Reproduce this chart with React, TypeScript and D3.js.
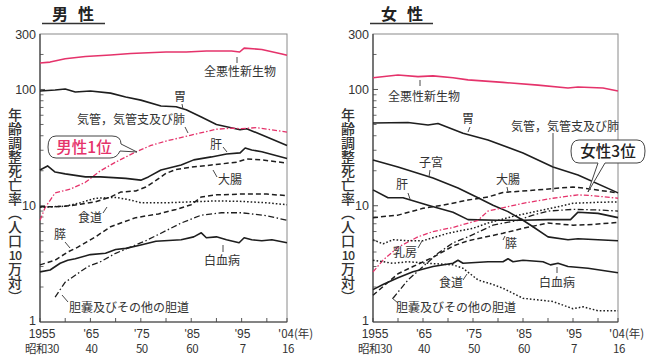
import React from 'react';
import * as d3 from 'd3';

type Pt = [number, number];

// ---------- tick labels ----------
const yearTicks = [1955, 1960, 1965, 1970, 1975, 1980, 1985, 1990, 1995, 2000, 2004];
const yearLabelYears = [1955, 1965, 1975, 1985, 1995, 2004];
const yearLabels = ['1955', "'65", "'75", "'85", "'95", "'04(年)"];
const eraLabels = ['昭和30', '40', '50', '60', '7', '16'];
const yLabelValues = [300, 100, 10, 1];
const yLabelTexts = ['300', '100', '10', '1'];
const yMinorTicks = [2, 3, 4, 5, 6, 7, 8, 9, 20, 30, 40, 50, 60, 70, 80, 90, 200];
const yAxisTitleA = '年齢調整死亡率（人口';
const yAxisTitleB = '10';
const yAxisTitleC = '万対）';

// ---------- male series ----------
const mAll: Pt[] = [[1955,169],[1957,172],[1960,184],[1964,192],[1969,198],[1973,204],[1980,210],[1984,210],[1988,214],[1993,214],[1994.6,210],[1995.5,227],[1999,221],[2003,202],[2004,197]];
const mStomach: Pt[] = [[1955,97],[1958,99],[1960,101],[1962,95],[1965,97],[1969,93],[1972,86],[1975,81],[1979,72],[1982,71],[1984,67],[1987,58],[1990,50],[1994.7,45],[1996,46],[2000,39],[2004,33]];
const mLung: Pt[] = [[1955,7.5],[1956,9.6],[1958,12.9],[1961,13.9],[1964,15.9],[1967,20],[1970,23.7],[1974,29],[1977,33],[1980,36],[1985,40.5],[1990,45.5],[1993,46.5],[1995,46],[1998,47],[2001,45],[2004,43]];
const mLiver: Pt[] = [[1955,20.3],[1956.5,22],[1958,19.5],[1960,18.8],[1964,17.7],[1967,17.7],[1972,17.2],[1975,16.6],[1976.5,17.7],[1979,20.3],[1983,22.4],[1985.5,24.8],[1989,26.3],[1992,27.9],[1994.7,28.5],[1995.7,31.4],[1997,30.2],[1999,29.1],[2004,25.5]];
const mColon: Pt[] = [[1955,9.8],[1958,9.8],[1961,10],[1963,10.3],[1966,10.8],[1969,11.9],[1971,13.1],[1974,13.4],[1976,14.5],[1978,16.5],[1980,19],[1982,20.5],[1985,21.5],[1989,22.4],[1994,23.7],[1996,25.2],[1999,24.8],[2004,23.3]];
const mEsoph: Pt[] = [[1955,9.7],[1960,9.9],[1963,10.6],[1966,11.6],[1970,11.8],[1973,11.2],[1975,10.6],[1980,10.6],[1985,10.8],[1990,11],[1995,10.9],[2000,10.6],[2004,10.2]];
const mPancreas: Pt[] = [[1955,3.1],[1958,3.4],[1960.5,4.0],[1962.5,4.4],[1966,5.4],[1969,6.6],[1974,7.9],[1978.5,8.5],[1982,9.3],[1985,10.2],[1987,11.9],[1990,12.4],[1995,12.6],[2000,12.6],[2004,12.2]];
const mGall: Pt[] = [[1958,1.64],[1960,2.2],[1964.5,3.0],[1967,3.3],[1970,3.9],[1974,4.6],[1976,5.0],[1979,5.8],[1983,7.1],[1987,8.3],[1991,8.7],[1995,8.7],[2000,8.2],[2004,7.5]];
const mLeuk: Pt[] = [[1955,2.7],[1957,2.8],[1959,3.2],[1960.5,3.4],[1962,3.5],[1965,3.8],[1968,3.9],[1970,4.2],[1972,4.3],[1975,4.6],[1978,4.95],[1983,5.1],[1985.5,5.4],[1987,5.85],[1988,5.3],[1990,5.4],[1992,5.1],[1994.5,4.8],[1995.5,5.3],[1997,5.1],[1999,5.0],[2001,5.1],[2004,4.8]];

// ---------- female series ----------
const fAll: Pt[] = [[1955,126],[1960,133],[1964,129],[1967,131],[1971,126],[1974,121],[1981,115],[1988,109],[1994,103],[1996,105],[2001,103],[2004,97]];
const fStomach: Pt[] = [[1955,51.5],[1962,52],[1966,49.5],[1968,51],[1973,42],[1978,36.8],[1985,28.4],[1991,21.5],[1996,18.4],[2004,12.9]];
const fUterus: Pt[] = [[1955,24.7],[1960,21.5],[1967,17.3],[1972,14.2],[1976,11.7],[1979,10.1],[1982,8.9],[1985,7.5],[1987,6.6],[1990,5.4],[1994,5.1],[1996,5.2],[2004,5.0]];
const fLiver: Pt[] = [[1955,13.7],[1958,11.7],[1961,11.7],[1966,10.1],[1971,8.8],[1974,7.6],[1980,7.5],[1985,7.5],[1990,7.6],[1994.5,7.6],[1996,8.8],[2000,8.6],[2004,7.9]];
const fColon: Pt[] = [[1955,7.9],[1960,8.3],[1965,9.5],[1969,10.1],[1974,11.2],[1978,11.9],[1981,13],[1988,13.7],[1995,14.5],[1997,14.2],[2004,12.9]];
const fLung: Pt[] = [[1955,2.7],[1957,3.4],[1960,4.4],[1964,5.4],[1967,6.0],[1971,6.5],[1976,7.5],[1978,9.0],[1980,9.4],[1985,10.5],[1991,11.6],[1996,12.4],[1999,12.2],[2004,11.6]];
const fBreast: Pt[] = [[1955,5.1],[1957,4.7],[1959,5.1],[1962,5.0],[1965,5.0],[1970,5.8],[1975,6.4],[1978,7.1],[1983,8.1],[1988,9.0],[1992,9.8],[1995,10.5],[2000,10.7],[2004,10.8]];
const fGall: Pt[] = [[1959,1.6],[1962,2.3],[1965,3.0],[1968,3.9],[1971,4.8],[1974,5.4],[1979,6.8],[1984,7.5],[1987,8.3],[1990,9.0],[1995,9.3],[2000,9.2],[2004,9.0]];
const fPancreas: Pt[] = [[1955,1.7],[1960,2.6],[1963,3.0],[1967,3.6],[1971,4.5],[1974,5.0],[1981,5.8],[1985,6.4],[1990,7.1],[1995,6.8],[1999,6.9],[2004,7.2]];
const fEsoph: Pt[] = [[1955,3.4],[1959,3.2],[1962,3.3],[1966,3.2],[1971,3.1],[1973,2.9],[1976,2.3],[1979,2.1],[1981,1.95],[1985,1.6],[1991,1.5],[1995,1.3],[1997,1.35],[2000,1.25],[2004,1.25]];
const fLeuk: Pt[] = [[1955,1.9],[1957,2.1],[1960,2.4],[1963,2.7],[1967,3.0],[1971,3.2],[1972,3.4],[1973,3.2],[1978,3.3],[1981,3.3],[1982,3.5],[1983,3.3],[1985,3.4],[1989,3.3],[1990.5,3.1],[1992,3.2],[1994,3.0],[1998,2.9],[2004,2.65]];

// ---------- styles ----------
const BLACK = '#1e1e1e';
const PINK = '#e5336b';
const FONT = '"Noto Sans CJK JP", "Noto Sans", sans-serif';
const NUMFONT = '"Liberation Sans", Arial, sans-serif';

type Style = { stroke: string; dash?: string; w: number };
const SOLID: Style = { stroke: BLACK, w: 1.6 };
const DASHED: Style = { stroke: BLACK, dash: '5,3', w: 1.5 };
const DOTTED: Style = { stroke: BLACK, dash: '1.6,2', w: 1.5 };
const DASHDOT: Style = { stroke: BLACK, dash: '6,2.5,1.5,2.5', w: 1.3 };
const PINKSOLID: Style = { stroke: PINK, w: 1.6 };
const PINKDD: Style = { stroke: PINK, dash: '5,2,1.5,2', w: 1.3 };

type Series = { data: Pt[]; style: Style };
type Label = { text: string; x: number; y: number; leader?: number[] };

const maleSeries: Series[] = [
  { data: mAll, style: PINKSOLID },
  { data: mStomach, style: SOLID },
  { data: mLung, style: PINKDD },
  { data: mLiver, style: SOLID },
  { data: mColon, style: DASHED },
  { data: mEsoph, style: DOTTED },
  { data: mPancreas, style: DASHED },
  { data: mGall, style: DASHDOT },
  { data: mLeuk, style: SOLID },
];
const femaleSeries: Series[] = [
  { data: fAll, style: PINKSOLID },
  { data: fStomach, style: SOLID },
  { data: fUterus, style: SOLID },
  { data: fLiver, style: SOLID },
  { data: fColon, style: DASHED },
  { data: fLung, style: PINKDD },
  { data: fBreast, style: DOTTED },
  { data: fGall, style: DASHDOT },
  { data: fPancreas, style: DASHED },
  { data: fEsoph, style: DOTTED },
  { data: fLeuk, style: SOLID },
];

const maleLabels: Label[] = [
  { text: '全悪性新生物', x: 240, y: 72, leader: [237, 57, 237, 63] },
  { text: '胃', x: 180, y: 97, leader: [182, 104, 183, 109] },
  { text: '気管，気管支及び肺', x: 131, y: 120, leader: [185, 127, 188, 133] },
  { text: '肝', x: 216, y: 145, leader: [223, 147, 227, 152] },
  { text: '大腸', x: 230, y: 180, leader: [213, 170, 217, 177] },
  { text: '食道', x: 90, y: 218, leader: [103, 213, 107, 207] },
  { text: '膵', x: 60, y: 235, leader: [65, 242, 70, 248] },
  { text: '白血病', x: 222, y: 261, leader: [223, 245, 223, 252] },
  { text: '胆嚢及びその他の胆道', x: 129, y: 308, leader: [62, 295, 68, 302] },
];
const femaleLabels: Label[] = [
  { text: '全悪性新生物', x: 424, y: 97, leader: [420, 80, 420, 86] },
  { text: '胃', x: 468, y: 119, leader: [470, 127, 468, 132] },
  { text: '子宮', x: 431, y: 163, leader: [430, 170, 429, 177] },
  { text: '肝', x: 402, y: 185, leader: [408, 193, 410, 199] },
  { text: '大腸', x: 508, y: 180, leader: [507, 187, 508, 192] },
  { text: '気管，気管支及び肺', x: 565, y: 127, leader: [553, 133, 553, 192] },
  { text: '乳房', x: 405, y: 253, leader: [418, 248, 422, 241] },
  { text: '膵', x: 511, y: 244, leader: [505, 236, 503, 240] },
  { text: '食道', x: 451, y: 283, leader: [463, 280, 467, 274] },
  { text: '白血病', x: 557, y: 283, leader: [557, 267, 557, 273] },
  { text: '胆嚢及びその他の胆道', x: 456, y: 308, leader: [392, 298, 398, 303] },
];

const TOP = 34;
const BOTTOM = 322;

function Panel({ left, right, title, titleX, ulX0, ulX1, series, labels }: {
  left: number; right: number; title: string; titleX: number; ulX0: number; ulX1: number;
  series: Series[]; labels: Label[];
}) {
  const x = d3.scaleLinear().domain([1955, 2004]).range([left, right]);
  const y = d3.scaleLog().domain([1, 300]).range([BOTTOM, TOP]);
  const line = d3.line<Pt>().x(d => x(d[0])).y(d => y(d[1]));
  const tx = left - 25;
  const vStyle: React.CSSProperties = { writingMode: 'vertical-rl' as any };
  return (
    <g>
      <text x={titleX} y={20} fontFamily={FONT} fontSize={16} fontWeight={700} fill="#222" letterSpacing={10}>{title}</text>
      <line x1={ulX0} x2={ulX1} y1={23.5} y2={23.5} stroke="#333" strokeWidth={1.5} />
      {/* frame */}
      <rect x={left} y={TOP} width={right - left} height={BOTTOM - TOP} fill="none" stroke="#8a8a8a" strokeWidth={1} />
      <line x1={left} x2={left} y1={TOP} y2={BOTTOM} stroke="#444" strokeWidth={1.2} />
      <line x1={left} x2={right} y1={BOTTOM} y2={BOTTOM} stroke="#444" strokeWidth={1.2} />
      {yMinorTicks.map(v => (
        <line key={'m' + v} x1={left} x2={left + 3.5} y1={y(v)} y2={y(v)} stroke="#444" strokeWidth={0.8} />
      ))}
      {[10, 100].map(v => (
        <line key={'M' + v} x1={left} x2={left + 5} y1={y(v)} y2={y(v)} stroke="#444" strokeWidth={0.9} />
      ))}
      {yearTicks.map(t => (
        <line key={'t' + t} x1={x(t)} x2={x(t)} y1={BOTTOM} y2={BOTTOM - 4} stroke="#444" strokeWidth={0.9} />
      ))}
      {yLabelValues.map((v, i) => (
        <text key={'yl' + v} x={left - 4} y={y(v) - (v === 1 ? 2 : 0)} dy="0.36em" textAnchor="end" fontFamily={NUMFONT} fontSize={12.5} fill="#333">{yLabelTexts[i]}</text>
      ))}
      {yearLabelYears.map((t, i) => {
        const last = i === yearLabelYears.length - 1;
        return (
          <g key={'xl' + t}>
            <text x={last ? x(t) - 9 : x(t) + (i === 0 ? 2 : 1)} y={338} textAnchor={last ? 'start' : 'middle'}
              fontFamily={last ? FONT : NUMFONT} fontSize={last ? 11.5 : 12} fill="#333">{yearLabels[i]}</text>
            <text x={x(t) + (i === 0 ? 2 : 1)} y={353} textAnchor="middle" fontFamily={FONT} fontSize={11.5} fill="#333" letterSpacing={-0.5}>{eraLabels[i]}</text>
          </g>
        );
      })}
      {/* vertical axis title */}
      <text x={tx} y={108} style={vStyle} fontFamily={FONT} fontSize={14} fontWeight={500} fill="#333">{yAxisTitleA}</text>
      <text x={tx} y={255} dy="0.36em" textAnchor="middle" fontFamily={FONT} fontSize={12.5} fontWeight={500} fill="#333" letterSpacing={-0.8}>{yAxisTitleB}</text>
      <text x={tx} y={262} style={vStyle} fontFamily={FONT} fontSize={14} fontWeight={500} fill="#333">{yAxisTitleC}</text>
      {/* series */}
      {series.map((s, i) => (
        <path key={'s' + i} d={line(s.data) || ''} fill="none" stroke={s.style.stroke} strokeWidth={s.style.w}
          strokeDasharray={s.style.dash} strokeLinejoin="round" />
      ))}
      {/* labels */}
      {labels.map((l, i) => (
        <g key={'l' + i}>
          <text x={l.x} y={l.y} dy="0.36em" textAnchor="middle" fontFamily={FONT} fontSize={12} fill="#333">{l.text}</text>
          {l.leader && <line x1={l.leader[0]} y1={l.leader[1]} x2={l.leader[2]} y2={l.leader[3]} stroke="#333" strokeWidth={0.9} />}
        </g>
      ))}
    </g>
  );
}

export default function App() {
  return (
    <svg width={650} height={357} viewBox="0 0 650 357" style={{ position: 'absolute', left: 0, top: 0, background: '#fff' }}>
      <rect x={0} y={0} width={650} height={357} fill="#fff" />
      <Panel left={40} right={287} title="男性" titleX={52} ulX0={42} ulX1={105} series={maleSeries} labels={maleLabels} />
      <Panel left={373} right={618} title="女性" titleX={381} ulX0={370} ulX1={433} series={femaleSeries} labels={femaleLabels} />
      {/* 男性1位 callout */}
      <path d="M 56 136 H 112 Q 121 136 121 144 L 137 152 L 120 151 Q 117 158 110 158 H 56 Q 48 158 48 147 Q 48 136 56 136 Z"
        fill="#fff" stroke="#444" strokeWidth={1} />
      <text x={84} y={147} dy="0.36em" textAnchor="middle" fontFamily={FONT} fontSize={15.5} fontWeight={500} fill={PINK}>男性1位</text>
      {/* 女性3位 callout */}
      <path d="M 579 140 H 637 Q 645 140 645 151 Q 645 163 637 163 H 605 L 588 192 L 598 163 H 579 Q 571 163 571 151 Q 571 140 579 140 Z"
        fill="#fff" stroke="#444" strokeWidth={1} />
      <text x={608} y={151} dy="0.36em" textAnchor="middle" fontFamily={FONT} fontSize={15.5} fontWeight={500} fill="#222">女性3位</text>
    </svg>
  );
}
